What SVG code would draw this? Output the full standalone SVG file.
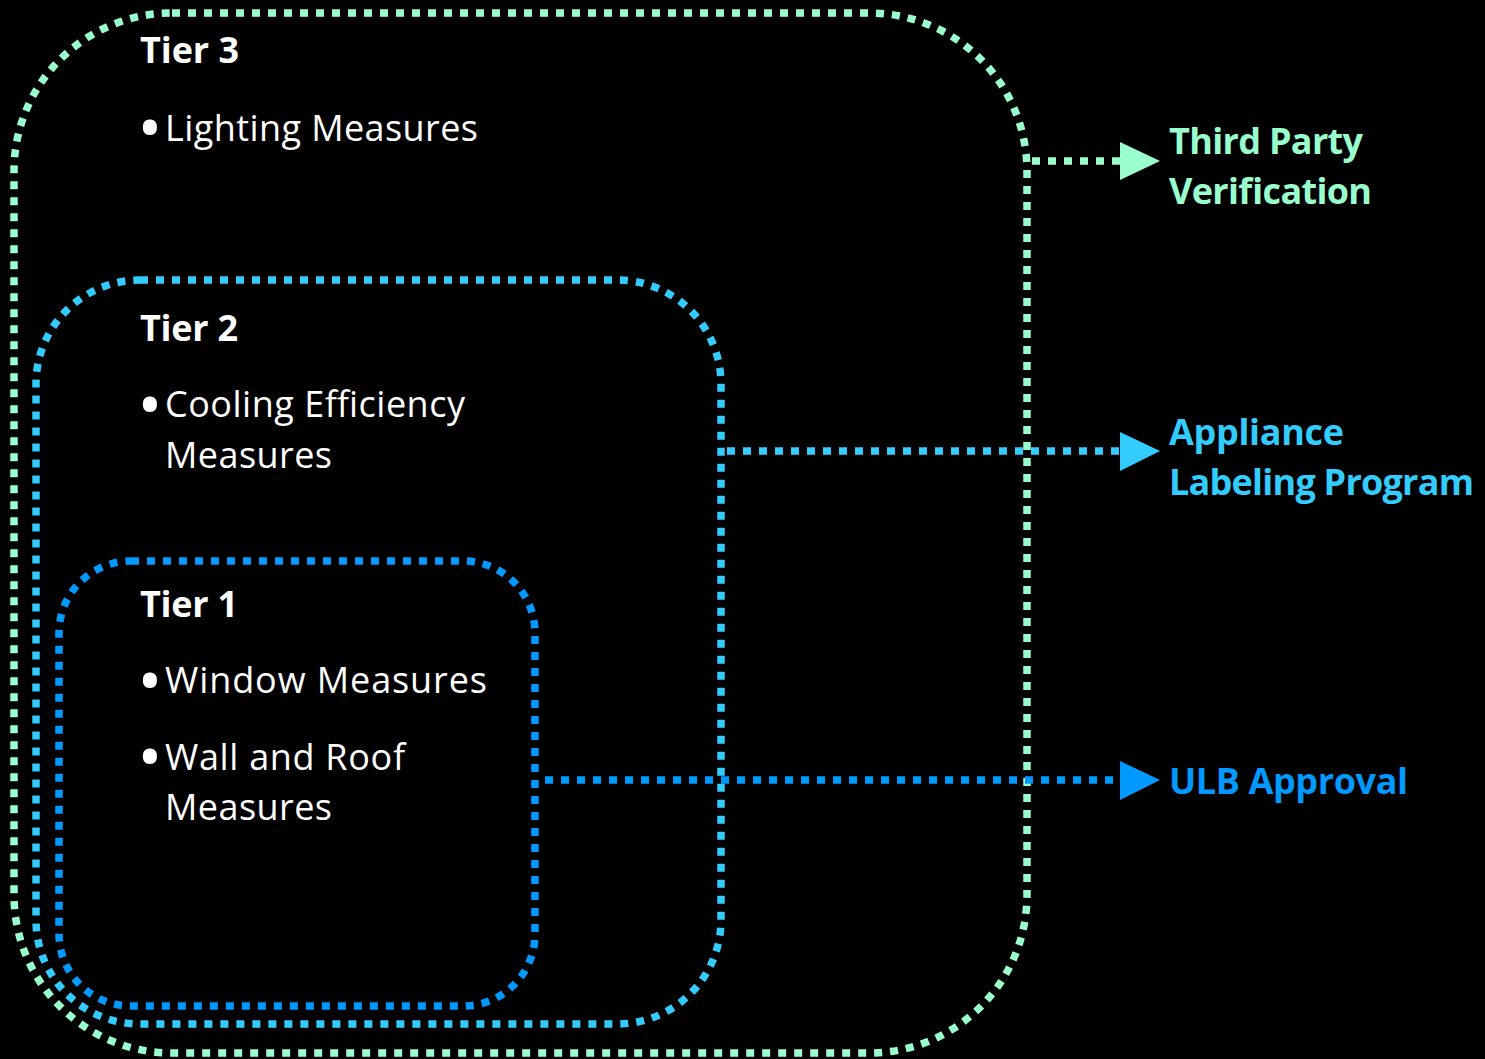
<svg xmlns="http://www.w3.org/2000/svg" width="1485" height="1059" viewBox="0 0 1485 1059">
  <style>
    .tier { fill: none; stroke-width: 7.5; stroke-dasharray: 8 8; }
    .t3 { stroke: #99FFCC; }
    .t2 { stroke: #33CCFF; }
    .t1 { stroke: #0099FF; }
    .link { fill: none; stroke-width: 7.5; stroke-dasharray: 8 8; }
    .head { stroke: none; }
    .title { font-family: "Open Sans", "Liberation Sans", sans-serif; font-weight: 700; font-size: 36px; fill: #FFFFFF; }
    .item { font-family: "Open Sans", "Liberation Sans", sans-serif; font-size: 36px; fill: #FFFFFF; }
    .bullet { font-family: "Open Sans", "Liberation Sans", sans-serif; font-weight: 700; font-size: 50px; fill: #FFFFFF; text-anchor: middle; }
    .label { font-family: "Open Sans", "Liberation Sans", sans-serif; font-weight: 700; font-size: 36px; }
  </style>

  <rect width="1485" height="1059" fill="#000000"/>

  <!-- Tier 3: outermost boundary -->
  <g id="tier3">
    <rect class="tier t3" x="14" y="13" width="1013" height="1040" rx="158" ry="158"/>
    <text class="title" x="140" y="63" textLength="99">Tier 3</text>
    <text class="bullet" x="150" y="146">•</text>
    <text class="item" x="165" y="141" textLength="313">Lighting Measures</text>
  </g>

  <!-- Tier 2 -->
  <g id="tier2">
    <rect class="tier t2" x="36" y="280" width="685" height="744" rx="104" ry="104"/>
    <text class="title" x="140" y="341" textLength="98">Tier 2</text>
    <text class="bullet" x="150" y="423">•</text>
    <text class="item" x="165" y="417" textLength="300">Cooling Efficiency</text>
    <text class="item" x="165" y="468" textLength="167">Measures</text>
  </g>

  <!-- Tier 1: innermost -->
  <g id="tier1">
    <rect class="tier t1" x="59" y="561" width="476" height="445" rx="72" ry="72"/>
    <text class="title" x="140" y="617" textLength="98">Tier 1</text>
    <text class="bullet" x="150" y="699">•</text>
    <text class="item" x="165" y="693" textLength="322">Window Measures</text>
    <text class="bullet" x="150" y="775">•</text>
    <text class="item" x="165" y="770" textLength="240">Wall and Roof</text>
    <text class="item" x="165" y="820" textLength="167">Measures</text>
  </g>

  <!-- Outcome labels -->
  <g id="third-party">
    <text class="label" fill="#99FFCC" x="1169" y="154" textLength="194">Third Party</text>
    <text class="label" fill="#99FFCC" x="1169" y="204" textLength="203">Verification</text>
  </g>
  <g id="appliance-labeling">
    <text class="label" fill="#33CCFF" x="1169" y="445" textLength="175">Appliance</text>
    <text class="label" fill="#33CCFF" x="1169" y="495" textLength="305">Labeling Program</text>
  </g>
  <g id="ulb-approval">
    <text class="label" fill="#0099FF" x="1169" y="794" textLength="239">ULB Approval</text>
  </g>

  <!-- Connectors from each tier to its outcome -->
  <g id="connectors">
    <line class="link t3" x1="1032" y1="161" x2="1120" y2="161"/>
    <polygon class="head" fill="#99FFCC" points="1120,142 1160,161 1120,180"/>
    <line class="link t2" x1="727" y1="451" x2="1120" y2="451"/>
    <polygon class="head" fill="#33CCFF" points="1120,432 1160,451 1120,471"/>
    <line class="link t1" x1="545" y1="780" x2="1120" y2="780"/>
    <polygon class="head" fill="#0099FF" points="1120,761 1160,780 1120,800"/>
  </g>
</svg>
